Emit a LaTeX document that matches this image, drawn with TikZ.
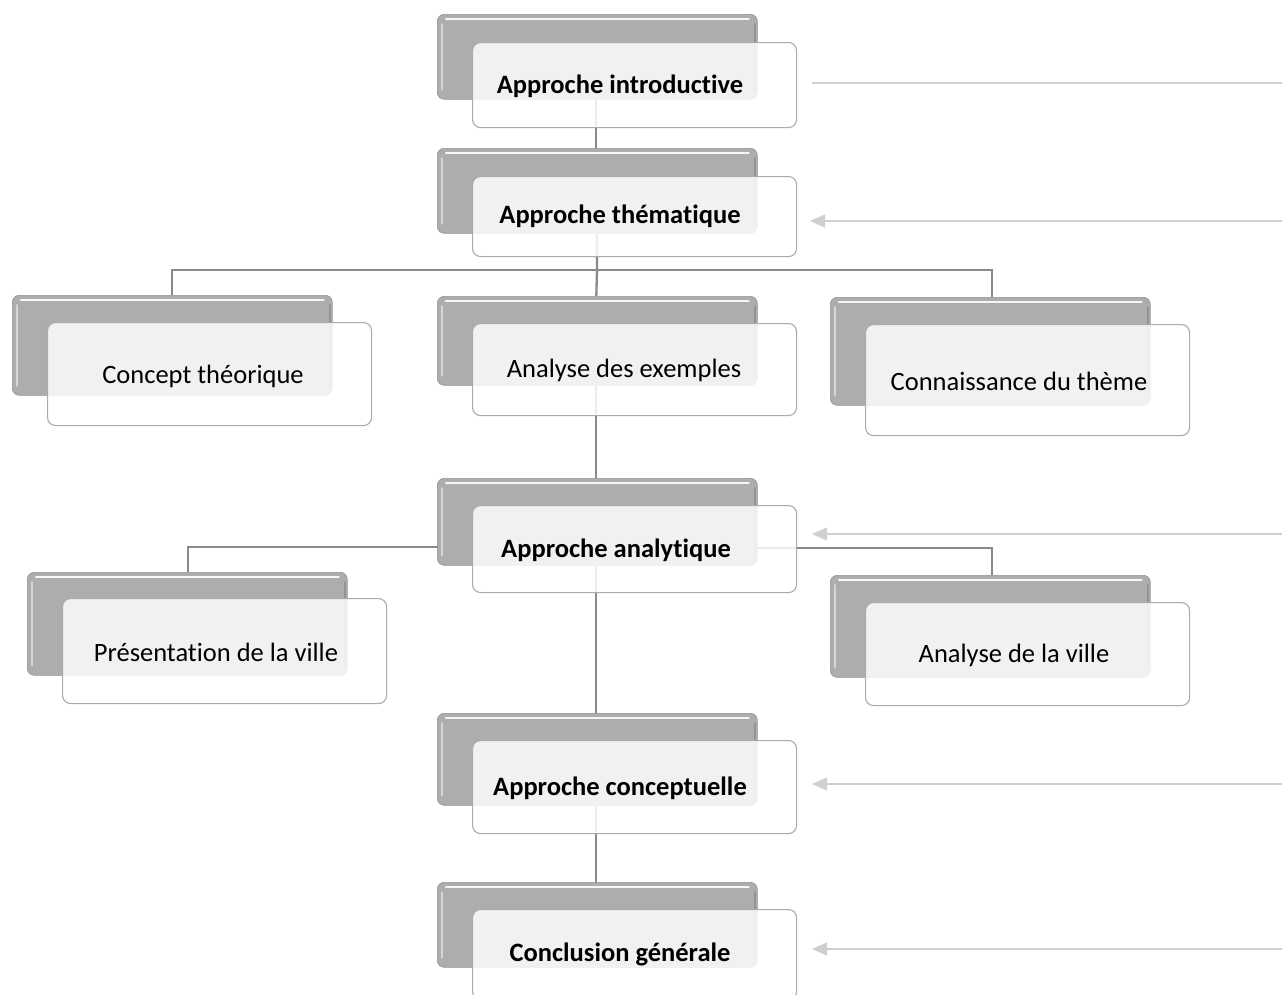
\documentclass[tikz,border=0pt]{standalone}
\usepackage{fontspec}
\setmainfont{Carlito}[Ligatures={NoCommon}]
\usetikzlibrary{arrows.meta,calc}
\pgfdeclarelayer{bg}
\pgfsetlayers{bg,main}
\definecolor{backgray}{HTML}{ADADAD}
\definecolor{conngray}{HTML}{8A8A8A}
\definecolor{guidegray}{HTML}{CFCFCF}
\definecolor{rimgray}{HTML}{ABABAB}
\tikzset{
  backbox/.style={rounded corners=7pt, minimum width=320pt, inner sep=0pt,
    fill=backgray, draw=backgray!85!black, line width=0.6pt},
  frontbox/.style={rounded corners=8pt, minimum width=324pt, inner sep=0pt,
    fill=white, fill opacity=0.84, draw=rimgray, line width=1.1pt},
  lbl/.style={font=\fontsize{26.5}{28}\selectfont, text=black, inner sep=0pt},
  blbl/.style={lbl, font=\fontsize{26.5}{28}\selectfont\bfseries},
  conn/.style={draw=conngray, line width=2.3pt},
  guide/.style={draw=guidegray, line width=1.5pt},
  guidearrow/.style={guide, -{Triangle[length=15pt,width=13pt]}},
}
\newcommand\bloc[9]{%
  \node[backbox, minimum height=#4pt, anchor=north west] (#1-b) at (#2,#3) {};
  \draw[white, line width=2.5pt, opacity=0.9, line cap=round]
    ($(#1-b.north west)+(9,5)$) -- ($(#1-b.north east)+(-9,5)$);
  \draw[white, line width=2pt, opacity=0.5, line cap=round]
    ($(#1-b.north west)+(5,10)$) -- ($(#1-b.south west)+(5,-10)$);
  \draw[backgray!75!black, line width=2pt, opacity=0.6, line cap=round]
    ($(#1-b.north east)+(-3,10)$) -- ($(#1-b.south east)+(-3,-10)$);
  \node[frontbox, minimum height=#6pt, anchor=north west] (#1-f) at (#2+35,#5) {};
  \node[#7] (#1) at #8 {#9};
}
\begin{document}
\begin{tikzpicture}[x=1pt,y=-1pt]
\useasboundingbox (0,0) rectangle (1282,994);
\bloc{intro}{437}{14}{85}{42}{85}{blbl}{(620,86)}{Approche introductive}
\bloc{them}{437}{148}{85}{176}{80}{blbl}{(620,216)}{Approche thématique}
\bloc{concept}{12}{295}{100}{322}{103}{lbl}{(203,376)}{Concept théorique}
\bloc{ex}{437}{296}{89}{323}{92}{lbl}{(624,370)}{Analyse des exemples}
\bloc{conn}{830}{297}{108}{324}{111}{lbl}{(1019,381)}{Connaissance du thème}
\bloc{ana}{437}{478}{87}{505}{87}{blbl}{(616,550)}{Approche analytique}
\bloc{pres}{27}{572}{103}{598}{105}{lbl}{(216,652)}{Présentation de la ville}
\bloc{av}{830}{575}{102}{602}{103}{lbl}{(1014,655)}{Analyse de la ville}
\bloc{concep}{437}{713}{92}{740}{93}{blbl}{(620,788)}{Approche conceptuelle}
\bloc{concl}{437}{882}{85}{909}{90}{blbl}{(620,954)}{Conclusion générale}

\begin{pgfonlayer}{bg}
  \coordinate (bus) at (597,270);
  \draw[conn] ([xshift=-1pt]intro-b.center) -- ([xshift=-1pt]them-b.center);
  \draw[conn] ([xshift=-1pt]them-b.center) -- (bus);
  \draw[conn] (bus) -| (concept-b.north);
  \draw[conn] (bus) -| ([xshift=2pt]conn-b.north);
  \draw[conn] (bus) -- ([xshift=-1pt]ex-b.north);
  \draw[conn] ([xshift=-1pt]ex-b.center) -- ([xshift=-1pt]ana-b.center);
  \draw[conn] ([xshift=-1pt,yshift=-25.5pt]ana-b.center) -| ([xshift=1pt]pres-b.north);
  \draw[conn] ([xshift=-1pt,yshift=-26.5pt]ana-b.center) -| ([xshift=2pt]av-b.north);
  \draw[conn] ([xshift=-1pt]ana-b.center) -- ([xshift=-1pt]concep-b.center);
  \draw[conn] ([xshift=-1pt]concep-b.center) -- ([xshift=-1pt]concl-b.center);
\end{pgfonlayer}

\coordinate (g1a) at (1282,83);  \coordinate (g1b) at (812,83);
\coordinate (g2a) at (1282,221); \coordinate (g2b) at (810,221);
\coordinate (g3a) at (1282,534); \coordinate (g3b) at (812,534);
\coordinate (g4a) at (1282,784); \coordinate (g4b) at (812,784);
\coordinate (g5a) at (1282,949); \coordinate (g5b) at (812,949);
\draw[guide] (g1a) -- (g1b);
\draw[guidearrow] (g2a) -- (g2b);
\draw[guidearrow] (g3a) -- (g3b);
\draw[guidearrow] (g4a) -- (g4b);
\draw[guidearrow] (g5a) -- (g5b);
\end{tikzpicture}
\end{document}
